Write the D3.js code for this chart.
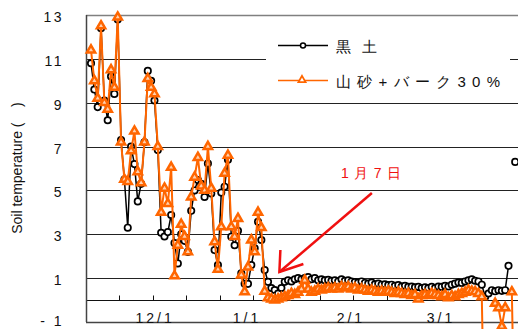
<!DOCTYPE html>
<html>
<head>
<meta charset="utf-8">
<script src="https://cdn.jsdelivr.net/npm/d3@7/dist/d3.min.js"></script>
<style>
  body { margin: 0; background: #fff; }
  text { font-family: Arial, "Liberation Sans", sans-serif; }
</style>
</head>
<body>
<div class="chart"></div>
<script>
// daily readings, first day = 11/12
var kuroboku = [10.8, 9.6, 8.8, 12.4, 9.1, 8.2, 10.2, 9.4, 12.8, 7.3,
    5.5, 3.3, 7.0, 6.2, 4.5, 5.3, 7.2, 10.45, 10.0, 9.1,
    6.84, 3.07, 2.9, 3.1, 3.88, 2.6, 1.67, 3.0, 2.7, 2.2,
    4.07, 5.0, 5.47, 5.3, 4.7, 6.23, 4.86, 2.28, 1.6, 4.9,
    5.17, 6.4, 2.89, 2.5, 3.16, 1.22, 0.74, 0.74, 1.6, 2.36,
    3.57, 2.74, 1.37, 0.83, 0.55, 0.46, 0.3, 0.55, 0.83, 0.9,
    0.85, 0.95, 1.0, 0.95, 1.0, 1.05, 0.95, 1.0, 0.9, 0.95,
    0.9, 0.92, 0.88, 0.9, 0.85, 0.95, 0.88, 0.9, 0.85, 0.82,
    0.8, 0.85, 0.78, 0.75, 0.8, 0.72, 0.75, 0.7, 0.72, 0.68,
    0.7, 0.65, 0.68, 0.62, 0.65, 0.6, 0.62, 0.58, 0.6, 0.55,
    0.58, 0.55, 0.6, 0.55, 0.62, 0.6, 0.65, 0.62, 0.7, 0.75,
    0.8, 0.78, 0.85, 0.9, 0.95, 0.88, 0.85, 0.7, 0.14, 0.3,
    0.45, 0.4, 0.45, 0.42, 0.45, 1.56, null, 6.3];

var yamazuna = [11.4, 10.0, 9.2, 12.5, 9.0, 8.7, 10.5, 9.7, 12.9, 7.2,
    5.5, 5.4, 6.8, 7.7, 5.85, 5.35, 7.2, 10.1, 9.7, 9.4,
    7.0, 4.0, 5.1, 4.4, 6.05, 1.1, 2.5, 3.45, 2.9, 2.2,
    4.7, 5.6, 6.5, 5.2, 5.0, 7.0, 5.1, 2.66, 1.4, 3.34,
    5.78, 6.6, 3.34, 2.9, 3.72, 1.14, 0.38, 1.5, 2.74, 2.2,
    4.0, 3.3, 0.4, 0.1, 0.05, 0.0, 0.05, 0.1, 0.15, 0.2,
    0.3, 0.25, 0.35, 0.5, 0.9, 0.5, 0.35, 0.4, 0.5, 0.45,
    0.5, 0.55, 0.5, 0.55, 0.5, 0.6, 0.55, 0.6, 0.5, 0.55,
    0.45, 0.5, 0.45, 0.4, 0.45, 0.4, 0.35, 0.4, 0.35, 0.4,
    0.35, 0.3, 0.35, 0.3, 0.25, 0.3, 0.2, 0.25, 0.05, 0.2,
    0.25, 0.2, 0.3, 0.25, 0.2, 0.15, 0.25, 0.1, 0.2, 0.15,
    0.25, 0.3, 0.35, 0.45, 0.4, 0.38, 0.3, 0.15, -8, null,
    null, -0.15, -0.35, -1.2, -0.35, null, 0.37, -8];

var seriesNames = ["黒土", "山砂+バーク30%"];
var yTicks = [-1, 1, 3, 5, 7, 9, 11, 13];
var monthLabels = ["12/1", "1/1", "2/1", "3/1"];
var monthAt = [19.2, 46.7, 77.8, 104.8];
var note = "1月7日";

var svgWidth = 518;
var svgHeight = 329;

var svg = d3.select(".chart")
    .append("svg")
    .attr("width", svgWidth)
    .attr("height", svgHeight);

var xScale = d3.scaleLinear().domain([-1.5, 128.5]).range([86, 520.2]);
var yScale = d3.scaleLinear().domain([-1, 13]).range([322, 15]);

// gridlines
svg.append("g")
    .selectAll("line")
    .data(yTicks.filter(function (d) { return d > -1 && d < 13; }))
    .enter()
    .append("line")
    .attr("x1", 86).attr("x2", svgWidth)
    .attr("y1", function (d) { return Math.round(yScale(d)) + 0.5; })
    .attr("y2", function (d) { return Math.round(yScale(d)) + 0.5; })
    .attr("stroke", "#222")
    .attr("stroke-width", 1);

svg.append("line")
    .attr("x1", 86).attr("x2", svgWidth)
    .attr("y1", Math.round(yScale(13)) + 0.5).attr("y2", Math.round(yScale(13)) + 0.5)
    .attr("stroke", "#808080").attr("stroke-width", 1.5);

// zero line with day ticks
var zeroY = Math.round(yScale(0)) + 0.5;
svg.append("line")
    .attr("x1", 86).attr("x2", svgWidth)
    .attr("y1", zeroY).attr("y2", zeroY)
    .attr("stroke", "#111");

svg.append("g")
    .selectAll("line")
    .data(d3.range(8.5, 128.5, 10))
    .enter()
    .append("line")
    .attr("x1", function (d) { return Math.round(xScale(d)) + 0.5; })
    .attr("x2", function (d) { return Math.round(xScale(d)) + 0.5; })
    .attr("y1", zeroY).attr("y2", zeroY - 5)
    .attr("stroke", "#111");

// frame
svg.append("line")
    .attr("x1", 86.5).attr("x2", 86.5)
    .attr("y1", yScale(13)).attr("y2", yScale(-1))
    .attr("stroke", "#444").attr("stroke-width", 1.5);
svg.append("line")
    .attr("x1", 86).attr("x2", svgWidth)
    .attr("y1", Math.round(yScale(-1)) + 0.5).attr("y2", Math.round(yScale(-1)) + 0.5)
    .attr("stroke", "#444").attr("stroke-width", 1.5);

// y tick labels
svg.append("g")
    .selectAll("text")
    .data(yTicks)
    .enter()
    .append("text")
    .attr("x", 64)
    .attr("y", function (d) { return Math.min(yScale(d) + 7, 325.5); })
    .attr("text-anchor", "end")
    .attr("font-size", "14px")
    .attr("letter-spacing", "2.5px")
    .attr("fill", "#111")
    .text(function (d) { return d < 0 ? "- " + Math.abs(d) : d; });

// x labels
svg.append("g")
    .selectAll("text")
    .data(monthLabels)
    .enter()
    .append("text")
    .attr("x", function (d, i) { return xScale(monthAt[i]); })
    .attr("y", 323)
    .attr("text-anchor", "middle")
    .attr("font-size", "14px")
    .attr("letter-spacing", "3px")
    .attr("fill", "#111")
    .text(function (d) { return d; });

svg.append("text")
    .attr("transform", "translate(22,168)rotate(-90)")
    .attr("text-anchor", "middle")
    .attr("font-size", "14px")
    .attr("fill", "#111")
    .text("Soil temperature (\u00a0\u00a0\u00a0\u00a0)");

var line = d3.line()
    .defined(function (d) { return d != null; })
    .x(function (d, i) { return xScale(i); })
    .y(function (d) { return yScale(d); });

var tri = d3.symbol().type(d3.symbolTriangle).size(30);

// black soil
svg.append("path")
    .datum(kuroboku)
    .attr("d", line)
    .attr("fill", "none")
    .attr("stroke", "#000")
    .attr("stroke-width", 1.5);

svg.append("g")
    .selectAll("circle")
    .data(kuroboku.map(function (v, i) { return { i: i, v: v }; }).filter(function (d) { return d.v != null; }))
    .enter()
    .append("circle")
    .attr("cx", function (d) { return xScale(d.i); })
    .attr("cy", function (d) { return yScale(d.v); })
    .attr("r", 3.2)
    .attr("fill", "#fff")
    .attr("stroke", "#000")
    .attr("stroke-width", 1.7);

// sand + bark
svg.append("path")
    .datum(yamazuna)
    .attr("d", line)
    .attr("fill", "none")
    .attr("stroke", "#ff6600")
    .attr("stroke-width", 2);

svg.append("g")
    .selectAll("path")
    .data(yamazuna.map(function (v, i) { return { i: i, v: v }; }).filter(function (d) { return d.v != null && d.v > -2; }))
    .enter()
    .append("path")
    .attr("d", tri)
    .attr("transform", function (d) { return `translate(${xScale(d.i)},${yScale(d.v)})`; })
    .attr("fill", "#ffd2b0")
    .attr("stroke", "#ff6600")
    .attr("stroke-width", 2.5);

// legend
var legend = svg.append("g");
legend.append("rect")
    .attr("x", 266).attr("y", 25).attr("width", 244).attr("height", 72)
    .attr("fill", "#fff");

legend.append("line")
    .attr("x1", 278).attr("x2", 328).attr("y1", 45.5).attr("y2", 45.5)
    .attr("stroke", "#000").attr("stroke-width", 1.5);
legend.append("circle")
    .attr("cx", 303).attr("cy", 45.5).attr("r", 2.5)
    .attr("fill", "#fff").attr("stroke", "#000").attr("stroke-width", 1.5);
legend.append("line")
    .attr("x1", 278).attr("x2", 328).attr("y1", 80.5).attr("y2", 80.5)
    .attr("stroke", "#ff6600").attr("stroke-width", 1.5);
legend.append("path")
    .attr("d", d3.symbol().type(d3.symbolTriangle).size(22))
    .attr("transform", "translate(302,80)")
    .attr("fill", "#fff").attr("stroke", "#ff6600").attr("stroke-width", 1.8);

legend.selectAll("text.leg")
    .data(seriesNames)
    .enter()
    .append("text")
    .attr("class", "leg")
    .attr("x", 336)
    .attr("y", function (d, i) { return 52 + i * 35; })
    .attr("font-family", "'Noto Sans CJK JP', sans-serif")
    .attr("font-size", "15px")
    .attr("fill", "#111")
    .attr("textLength", function (d, i) { return i == 0 ? 41 : 164; })
    .attr("lengthAdjust", "spacing")
    .text(function (d) { return d; });

// annotation
svg.append("text")
    .attr("x", xScale(83.8))
    .attr("y", yScale(5.84) + 6)
    .attr("text-anchor", "middle")
    .attr("font-family", "'Noto Sans CJK JP', sans-serif")
    .attr("font-size", "14px")
    .attr("fill", "#f01010")
    .attr("textLength", 60)
    .attr("lengthAdjust", "spacing")
    .text(note);

var tipX = xScale(56.4), tipY = yScale(1.28);
svg.append("line")
    .attr("x1", xScale(84.1)).attr("y1", yScale(4.88))
    .attr("x2", tipX).attr("y2", tipY)
    .attr("stroke", "#f01010").attr("stroke-width", 2.5);
svg.append("path")
    .attr("d", `M${tipX + 1},${tipY - 22}L${tipX},${tipY}L${tipX + 24},${tipY - 8}`)
    .attr("fill", "none")
    .attr("stroke", "#f01010").attr("stroke-width", 2.5);
</script>
</body>
</html>
